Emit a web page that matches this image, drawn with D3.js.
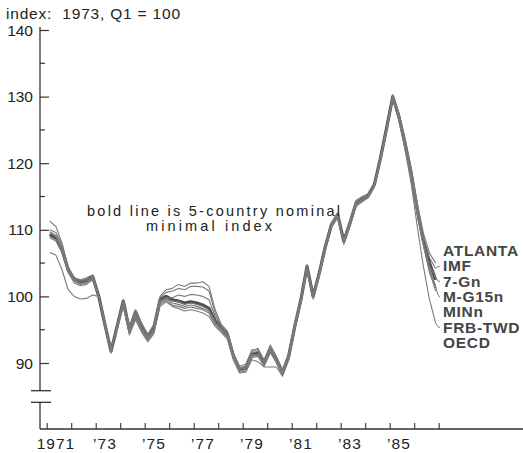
<!DOCTYPE html>
<html>
<head>
<meta charset="utf-8">
<script src="https://cdn.jsdelivr.net/npm/d3@7"></script>
<style>
  body { margin: 0; background: #fff; }
  text { font-family: "Liberation Sans", Arial, sans-serif; }
</style>
</head>
<body>
<main></main>
<script>
// tamaño del dibujo
const w = 523;
const h = 453;

// años con datos (trimestral, 1971 Q1 a 1986 Q4)
const years = d3.range(1971, 1987);
const quarters = [1, 2, 3, 4];

// etiquetas del eje x
const yearTicks = d3.range(1971, 1988);
const yearLabels = [1971, 1973, 1975, 1977, 1979, 1981, 1983, 1985];
const yTicks = [90, 100, 110, 120, 130, 140];
const yMinor = [95, 105, 115, 125, 135];

// nombres de las series (orden de la leyenda)
const names = ['ATLANTA', 'IMF', '7-Gn', 'M-G15n', 'MINn', 'FRB-TWD', 'OECD'];

// indice de 5 paises (linea gruesa)
const bold5 = [
  109.3, 108.8, 107.0, 104.0, 102.6, 102.2, 102.4, 103.0,
  100.0, 95.8, 91.8, 95.5, 99.3, 95.0, 97.7, 95.5,
  94.0, 95.3, 99.5, 100.0, 99.5, 99.3, 99.0, 99.2,
  99.0, 98.7, 98.2, 96.3, 95.3, 94.3, 91.0, 89.0,
  89.3, 91.3, 91.5, 90.0, 92.0, 90.5, 88.6, 91.0,
  95.5, 99.5, 104.5, 100.0, 103.5, 107.5, 110.8, 112.3,
  108.3, 111.0, 114.0, 114.6, 115.2, 116.8, 120.8, 125.3,
  130.0, 127.0, 123.0, 118.5, 113.0, 108.3, 105.0, 102.5
];

const atlanta = [
  111.3, 110.5, 108.0, 104.5, 102.8, 102.5, 102.8, 103.2,
  100.0, 95.5, 91.5, 95.8, 99.5, 95.5, 98.0, 96.0,
  94.3, 95.8, 100.0, 101.0, 101.2, 101.8, 101.5, 102.0,
  102.0, 102.2, 101.5, 98.0, 95.8, 94.8, 91.5, 89.5,
  89.8, 92.0, 92.0, 90.5, 92.7, 91.0, 89.0, 91.5,
  96.0, 99.8, 104.8, 100.3, 103.8, 107.8, 111.0, 112.5,
  108.6, 111.4, 114.4, 115.0, 115.4, 117.0, 121.0, 125.5,
  130.3, 127.5, 123.6, 119.3, 114.0, 109.5, 106.5, 105.0
];

const imf = [
  110.0, 109.6, 107.8, 104.3, 102.7, 102.3, 102.5, 103.1,
  100.0, 95.6, 91.7, 95.6, 99.2, 95.2, 97.5, 95.8,
  94.2, 95.6, 99.8, 100.6, 100.8, 101.2, 101.0, 101.5,
  101.5, 101.4, 100.8, 97.5, 95.5, 94.6, 91.3, 89.3,
  89.5, 91.7, 92.2, 90.3, 92.5, 90.8, 88.8, 91.2,
  95.8, 99.6, 104.6, 100.2, 103.6, 107.6, 110.9, 112.4,
  108.4, 111.2, 114.2, 114.8, 115.3, 116.9, 120.9, 125.4,
  130.1, 127.2, 123.3, 118.9, 113.5, 109.0, 105.8, 104.2
];

const g7n = [
  109.7, 109.2, 107.4, 104.2, 102.5, 102.0, 102.2, 102.9,
  100.0, 95.9, 92.0, 95.4, 99.0, 94.8, 97.3, 95.2,
  93.8, 95.0, 99.3, 99.8, 99.8, 100.2, 100.0, 100.3,
  100.2, 100.0, 99.5, 97.0, 95.6, 94.4, 91.2, 89.2,
  89.4, 91.5, 91.8, 90.2, 92.3, 90.6, 88.7, 91.1,
  95.6, 99.5, 104.4, 100.1, 103.4, 107.4, 110.7, 112.2,
  108.2, 110.9, 113.9, 114.5, 115.1, 116.7, 120.7, 125.2,
  129.9, 126.9, 122.9, 118.4, 112.8, 108.2, 104.6, 102.8
];

const mg15n = [
  109.0, 108.5, 106.8, 103.8, 102.3, 101.8, 102.0, 102.7,
  100.0, 96.0, 92.1, 95.3, 98.8, 94.6, 97.0, 95.0,
  93.6, 94.8, 99.0, 99.6, 99.0, 98.8, 98.5, 98.7,
  98.5, 98.2, 97.8, 96.0, 95.0, 94.0, 90.8, 88.8,
  89.0, 91.0, 91.2, 89.7, 91.8, 90.2, 88.4, 90.8,
  95.3, 99.3, 104.3, 99.9, 103.3, 107.3, 110.6, 112.1,
  108.1, 110.8, 113.8, 114.4, 115.0, 116.6, 120.6, 125.1,
  129.8, 126.8, 122.8, 118.2, 112.6, 108.0, 104.0, 101.6
];

const minn = [
  108.8, 108.3, 106.6, 103.6, 102.0, 101.6, 101.8, 102.5,
  100.0, 96.1, 92.2, 95.2, 98.6, 94.4, 96.8, 94.8,
  93.4, 94.6, 98.8, 99.4, 98.7, 98.5, 98.2, 98.4,
  98.2, 98.0, 97.5, 95.8, 94.8, 93.8, 90.6, 88.6,
  88.8, 90.8, 91.0, 89.5, 91.6, 90.0, 88.2, 90.6,
  95.2, 99.2, 104.2, 99.8, 103.2, 107.2, 110.5, 112.0,
  108.0, 110.7, 113.7, 114.3, 114.9, 116.5, 120.5, 125.0,
  129.7, 126.6, 122.5, 117.9, 112.3, 107.6, 103.6, 101.3
];

const frbtwd = [
  106.6, 106.2, 104.0, 101.0, 100.0, 99.6, 99.7, 100.2,
  100.0, 96.2, 92.3, 95.0, 98.5, 94.2, 96.5, 94.6,
  93.2, 94.4, 98.5, 99.2, 98.5, 98.2, 97.8, 98.0,
  97.8, 97.5, 97.0, 95.5, 94.6, 93.6, 90.4, 88.5,
  88.6, 90.5, 90.2, 89.4, 89.4, 89.4, 88.0, 90.4,
  95.0, 99.0, 104.0, 99.6, 103.0, 107.0, 110.3, 111.8,
  107.8, 110.5, 113.5, 114.2, 114.8, 116.4, 120.4, 124.9,
  129.6, 126.4, 122.0, 117.0, 110.5, 104.5, 99.5, 96.0
];

const oecd = [
  109.5, 109.0, 107.2, 104.0, 102.4, 101.9, 102.1, 102.8,
  100.0, 95.7, 91.9, 95.5, 99.1, 94.9, 97.4, 95.3,
  93.9, 95.1, 99.2, 99.7, 99.3, 99.2, 98.8, 99.0,
  98.8, 98.5, 98.0, 96.2, 95.2, 94.2, 91.0, 89.0,
  89.2, 91.2, 91.4, 89.9, 92.0, 90.4, 88.5, 90.9,
  95.4, 99.4, 104.4, 100.0, 103.4, 107.4, 110.7, 112.2,
  108.2, 110.9, 113.9, 114.5, 115.1, 116.7, 120.7, 125.2,
  129.9, 126.8, 122.7, 118.0, 112.4, 107.8, 103.8, 100.8
];

const seriesValues = [atlanta, imf, g7n, mg15n, minn, frbtwd, oecd];

// tiempo de cada punto (mitad del trimestre)
const times = [];
years.forEach(y => quarters.forEach(q => times.push(y + (q - 0.5) / 4)));

var svg = d3.select('main')
    .append('svg')
    .attr('width', w)
    .attr('height', h);

//Escalas
const x = d3.scaleLinear()
    .domain([1971, 1987])
    .range([46.7, 438.7]);

const y = d3.scaleLinear()
    .domain([90, 140])
    .range([363, 30]);

const axisX = 40;
const baseY = 429;
const breakTop = 390.7;
const breakBottom = 402.3;

//Titulo del eje
svg.append('text')
    .attr('x', 6)
    .attr('y', 19)
    .attr('font-size', 15.5)
    .attr('fill', '#222')
    .attr('textLength', 174)
    .attr('lengthAdjust', 'spacing')
    .text('index:\u00a0 1973, Q1 = 100');

//Eje y con marcas hacia dentro
var gy = svg.append('g')
    .attr('transform', `translate(${axisX},0)`)
    .call(d3.axisRight(y).tickValues(yTicks).tickSize(9).tickFormat(''));
gy.select('.domain').remove();
gy.selectAll('line').attr('stroke', '#333').attr('stroke-width', 1.2);

svg.append('g')
    .selectAll('line')
    .data(yMinor)
    .enter()
    .append('line')
    .attr('x1', axisX)
    .attr('x2', axisX + 5)
    .attr('y1', d => y(d))
    .attr('y2', d => y(d))
    .attr('stroke', '#333')
    .attr('stroke-width', 1.2);

svg.append('g')
    .selectAll('text')
    .data(yTicks)
    .enter()
    .append('text')
    .attr('x', 33)
    .attr('y', d => y(d) + 5.5)
    .attr('text-anchor', 'end')
    .attr('font-size', 15.5)
    .attr('fill', '#222')
    .text(d => d);

// linea del eje y con corte
svg.append('line')
    .attr('x1', axisX).attr('x2', axisX)
    .attr('y1', 27).attr('y2', breakTop)
    .attr('stroke', '#333').attr('stroke-width', 1.3);
svg.append('line')
    .attr('x1', axisX).attr('x2', axisX)
    .attr('y1', breakBottom).attr('y2', baseY)
    .attr('stroke', '#333').attr('stroke-width', 1.3);
[breakTop, breakBottom].forEach(b => {
    svg.append('line')
        .attr('x1', 31).attr('x2', 51)
        .attr('y1', b).attr('y2', b)
        .attr('stroke', '#333').attr('stroke-width', 1.3);
});

//Eje x
svg.append('line')
    .attr('x1', axisX).attr('x2', w)
    .attr('y1', baseY).attr('y2', baseY)
    .attr('stroke', '#333').attr('stroke-width', 1.3);

var gx = svg.append('g')
    .attr('transform', `translate(0,${baseY})`)
    .call(d3.axisTop(x).tickValues(yearTicks).tickSize(6).tickFormat(''));
gx.select('.domain').remove();
gx.selectAll('line').attr('stroke', '#333').attr('stroke-width', 1.1);

svg.append('g')
    .selectAll('text')
    .data(yearLabels)
    .enter()
    .append('text')
    .attr('x', d => x(d + 0.5) - 3)
    .attr('y', 449)
    .attr('text-anchor', 'middle')
    .attr('font-size', 15.5)
    .attr('letter-spacing', 1)
    .attr('fill', '#222')
    .text(d => d === 1971 ? '1971' : '\u2019' + String(d).slice(2));

//Lineas
const linea = d3.line()
    .x((d, i) => x(times[i]))
    .y(d => y(d));

svg.append('path')
    .datum(bold5)
    .attr('d', linea)
    .attr('fill', 'none')
    .attr('stroke', '#4d4d4d')
    .attr('stroke-width', 3.2)
    .attr('stroke-linejoin', 'round');

svg.append('g')
    .selectAll('path')
    .data(seriesValues)
    .enter()
    .append('path')
    .attr('d', linea)
    .attr('fill', 'none')
    .attr('stroke', '#7a7a7a')
    .attr('stroke-width', 1.1)
    .attr('stroke-linejoin', 'round');

//Leyenda
const labelX = 443;
const labelY = d3.scaleLinear().domain([0, 6]).range([256, 348]);

// guias cortas solo cuando la linea termina cerca de su etiqueta
svg.append('g')
    .selectAll('path')
    .data(seriesValues.map((d, i) => ({ d, i })).filter(o => Math.abs(y(o.d[o.d.length - 1]) - (labelY(o.i) - 5)) < 12))
    .enter()
    .append('path')
    .attr('d', o => {
        const x0 = x(times[times.length - 1]);
        const y0 = y(o.d[o.d.length - 1]);
        const y1 = labelY(o.i) - 5;
        return `M${x0},${y0} Q${x0 + 2},${y1} ${labelX - 3},${y1}`;
    })
    .attr('fill', 'none')
    .attr('stroke', '#7a7a7a')
    .attr('stroke-width', 1);

svg.append('g')
    .selectAll('text')
    .data(names)
    .enter()
    .append('text')
    .attr('x', labelX)
    .attr('y', (d, i) => labelY(i))
    .attr('font-size', 15.5)
    .attr('font-weight', 'bold')
    .attr('letter-spacing', 0.7)
    .attr('fill', '#444')
    .text(d => d);

//Nota
svg.append('text')
    .attr('x', 87)
    .attr('y', 216)
    .attr('font-size', 14.5)
    .attr('fill', '#222')
    .attr('textLength', 253)
    .attr('lengthAdjust', 'spacing')
    .text('bold line is 5-country nominal');

svg.append('text')
    .attr('x', 146)
    .attr('y', 231)
    .attr('font-size', 14.5)
    .attr('fill', '#222')
    .attr('textLength', 126)
    .attr('lengthAdjust', 'spacing')
    .text('minimal index');
</script>
</body>
</html>
